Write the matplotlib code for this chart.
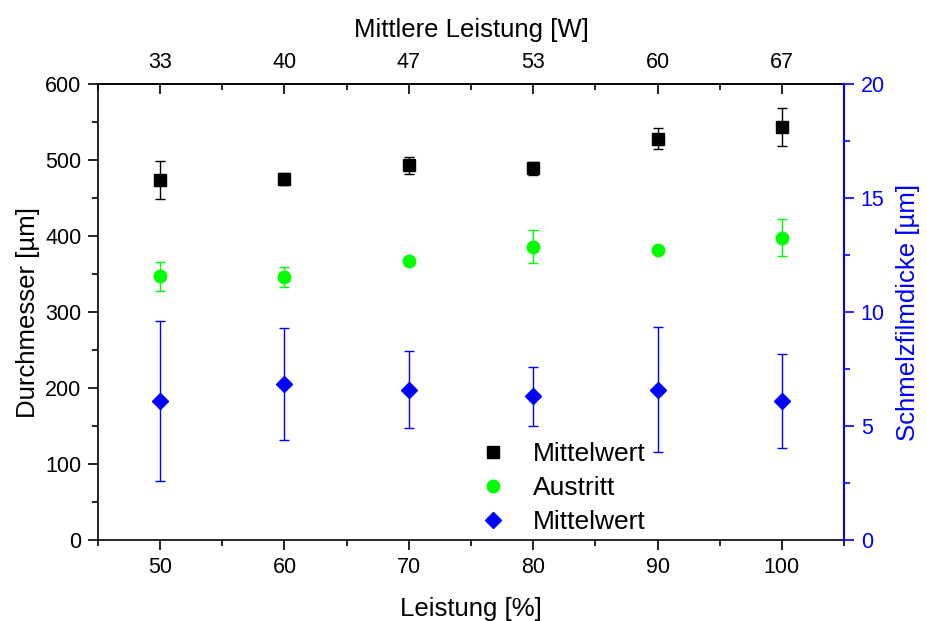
import numpy as np
import matplotlib
matplotlib.use('Agg')
import matplotlib.pyplot as plt
from matplotlib.ticker import MultipleLocator

plt.rcParams['font.family'] = ['Liberation Sans', 'DejaVu Sans']

# Messwerte
leistung = [50, 60, 70, 80, 90, 100]
mittlere_leistung = ['33', '40', '47', '53', '60', '67']

d_mittel = [474, 475, 493, 489, 528, 543]
d_mittel_err = [25, 8, 11, 9, 14, 25]

d_austritt = [347, 346, 367, 386, 382, 398]
d_austritt_err = [19, 13, 0, 22, 0, 24]

schmelzfilm = [6.1, 6.85, 6.6, 6.3, 6.6, 6.1]
schmelzfilm_err = [3.5, 2.45, 1.7, 1.3, 2.75, 2.05]

gruen = '#00ff00'
blau = '#0000ff'

fig = plt.figure(figsize=(9.27, 6.21), dpi=100)
ax = fig.add_axes([0.1057, 0.1304, 0.8048, 0.7343])

e1 = ax.errorbar(leistung, d_mittel, yerr=d_mittel_err, fmt='s', color='black',
                 ms=8.3, elinewidth=1, capsize=3.6, capthick=1, label='Mittelwert')
e2 = ax.errorbar(leistung, d_austritt, yerr=d_austritt_err, fmt='o', color=gruen,
                 ms=9, elinewidth=1, capsize=3.6, capthick=1, label='Austritt')

ax.set_xlim(45, 105)
ax.set_ylim(0, 600)
ax.xaxis.set_major_locator(MultipleLocator(10))
ax.xaxis.set_minor_locator(MultipleLocator(5))
ax.yaxis.set_major_locator(MultipleLocator(100))
ax.yaxis.set_minor_locator(MultipleLocator(50))
ax.tick_params(which='major', length=7, width=1.2, labelsize=15.5, pad=5)
ax.tick_params(which='minor', length=4, width=1.2)
ax.spines['right'].set_visible(False)
for s in ['left', 'bottom', 'top']:
    ax.spines[s].set_linewidth(1.2)
ax.set_xlabel('Leistung [%]', fontsize=18.5, labelpad=14)
ax.set_ylabel('Durchmesser [µm]', fontsize=18.5, labelpad=4)

# obere Achse: mittlere Leistung
top = ax.secondary_xaxis('top')
top.set_xticks(leistung, labels=mittlere_leistung)
top.xaxis.set_minor_locator(MultipleLocator(5))
top.tick_params(which='major', direction='in', length=7, width=1.2, labelsize=15.5, pad=8)
top.tick_params(which='minor', direction='in', length=4, width=1.2)
top.spines['top'].set_linewidth(1.2)
top.set_xlabel('Mittlere Leistung [W]', fontsize=18.5, labelpad=11)

# rechte Achse: Schmelzfilmdicke
ax2 = ax.twinx()
e3 = ax2.errorbar(leistung, schmelzfilm, yerr=schmelzfilm_err, fmt='D', color=blau,
                  ms=8, elinewidth=1, capsize=3.6, capthick=1, label='Mittelwert')
ax2.set_ylim(0, 20)
ax2.yaxis.set_major_locator(MultipleLocator(5))
ax2.yaxis.set_minor_locator(MultipleLocator(2.5))
ax2.tick_params(which='major', colors=blau, length=7, width=1.2, labelsize=15.5, pad=5)
ax2.tick_params(which='minor', colors=blau, length=4, width=1.2)
for s in ['left', 'bottom', 'top']:
    ax2.spines[s].set_visible(False)
ax2.spines['right'].set_color(blau)
ax2.spines['right'].set_linewidth(1.5)
ax2.set_ylabel('Schmelzfilmdicke [µm]', fontsize=18.5, color=blau, labelpad=8)

# Legende nur mit Markern, ohne Fehlerbalken
handles = [e[0] for e in (e1, e2, e3)]
labels = ['Mittelwert', 'Austritt', 'Mittelwert']
ax2.legend(handles, labels, loc='upper left', bbox_to_anchor=(0.512, 0.215),
           frameon=False, fontsize=19, handlelength=1.0, handletextpad=1.0,
           labelspacing=0.38, borderpad=0, borderaxespad=0)

fig.savefig('out.png', dpi=100)
